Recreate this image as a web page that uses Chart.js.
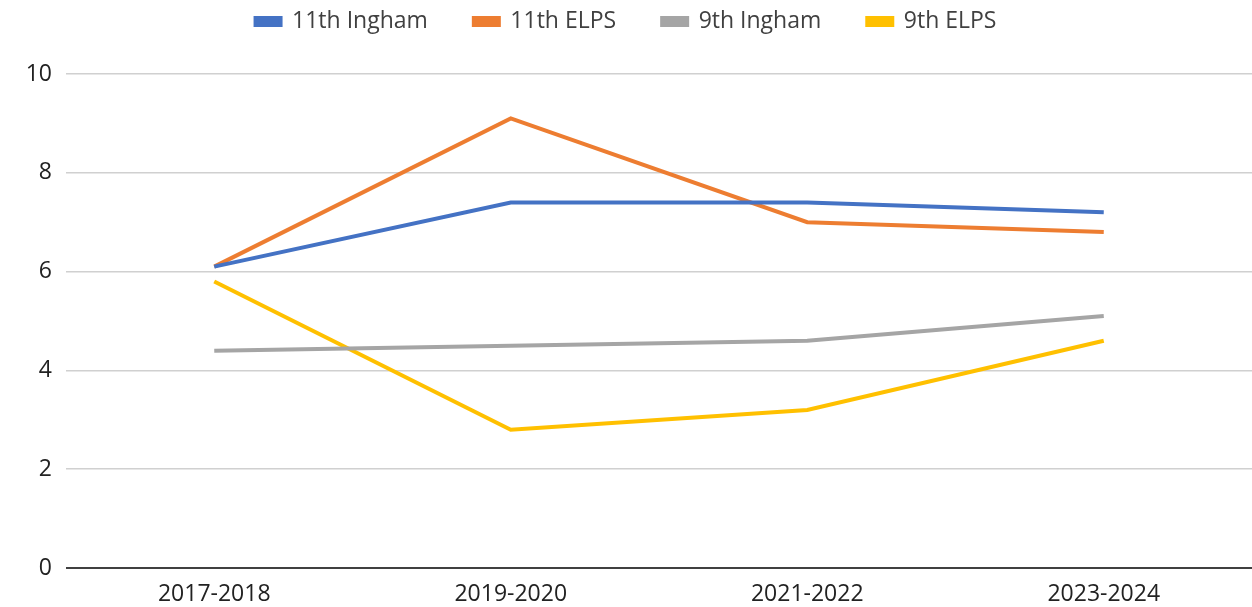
<!DOCTYPE html>
<html>
<head>
<meta charset="utf-8">
<script src="https://cdn.jsdelivr.net/npm/chart.js@4/dist/chart.umd.min.js"></script>
<style>
  html, body { margin: 0; padding: 0; background: #fff; }
  #wrap { width: 1252px; height: 607px; }
</style>
</head>
<body>
<div id="wrap"><canvas id="chart" width="1252" height="607"></canvas></div>
<script>
'use strict';

// data
const years = ['2017-2018', '2019-2020', '2021-2022', '2023-2024'];
const ingham11 = [6.1, 7.4, 7.4, 7.2];
const elps11 = [6.1, 9.1, 7.0, 6.8];
const ingham9 = [4.4, 4.5, 4.6, 5.1];
const elps9 = [5.8, 2.8, 3.2, 4.6];
const seriesNames = ['11th Ingham', '11th ELPS', '9th Ingham', '9th ELPS'];
const seriesColors = ['#4472C4', '#ED7D31', '#A5A5A5', '#FFC000'];

const FONT = "'Open Sans', 'Liberation Sans', sans-serif";

// keep legend a fixed height so the plot starts where the original does,
// then nudge it up so the row sits near the top edge
const legendPlace = {
    id: 'legendPlace',
    beforeInit(chart) {
        const origFit = chart.legend.fit;
        chart.legend.fit = function () {
            origFit.call(this);
            this.height = 74;
        };
    },
    afterLayout(chart) {
        const lg = chart.legend;
        lg.top = -36;
        lg.bottom = lg.top + lg.height;
    }
};

const lineSet = (label, data, color) => ({
    label: label,
    data: data,
    borderColor: color,
    backgroundColor: color,
    borderWidth: 4,
    pointRadius: 0,
    tension: 0,
    fill: false
});

new Chart(document.getElementById('chart').getContext('2d'), {
    type: 'line',
    data: {
        labels: years,
        datasets: [
            lineSet(seriesNames[0], ingham11, seriesColors[0]),
            lineSet(seriesNames[1], elps11, seriesColors[1]),
            lineSet(seriesNames[2], ingham9, seriesColors[2]),
            lineSet(seriesNames[3], elps9, seriesColors[3])
        ]
    },
    options: {
        responsive: false,
        animation: false,
        layout: { padding: 0 },
        plugins: {
            legend: {
                position: 'top',
                labels: {
                    font: { family: FONT, size: 23 },
                    color: '#404040',
                    boxWidth: 25,
                    boxHeight: 7,
                    padding: 46
                }
            },
            tooltip: { enabled: false }
        },
        scales: {
            x: {
                offset: true,
                grid: { display: false },
                border: { display: false },
                ticks: { font: { family: FONT, size: 23 }, color: '#222', padding: 5 },
                afterFit: scale => { scale.height = 39; }
            },
            y: {
                min: 0,
                max: 10,
                ticks: { stepSize: 2, font: { family: FONT, size: 23 }, color: '#222', padding: 14 },
                grid: {
                    drawTicks: false,
                    color: ctx => ctx.tick && ctx.tick.value === 0 ? '#404040' : '#d0d0d0',
                    lineWidth: ctx => ctx.tick && ctx.tick.value === 0 ? 2 : 1.5
                },
                border: { display: false },
                afterFit: scale => { scale.width = 66; }
            }
        }
    },
    plugins: [legendPlace]
});
</script>
</body>
</html>
